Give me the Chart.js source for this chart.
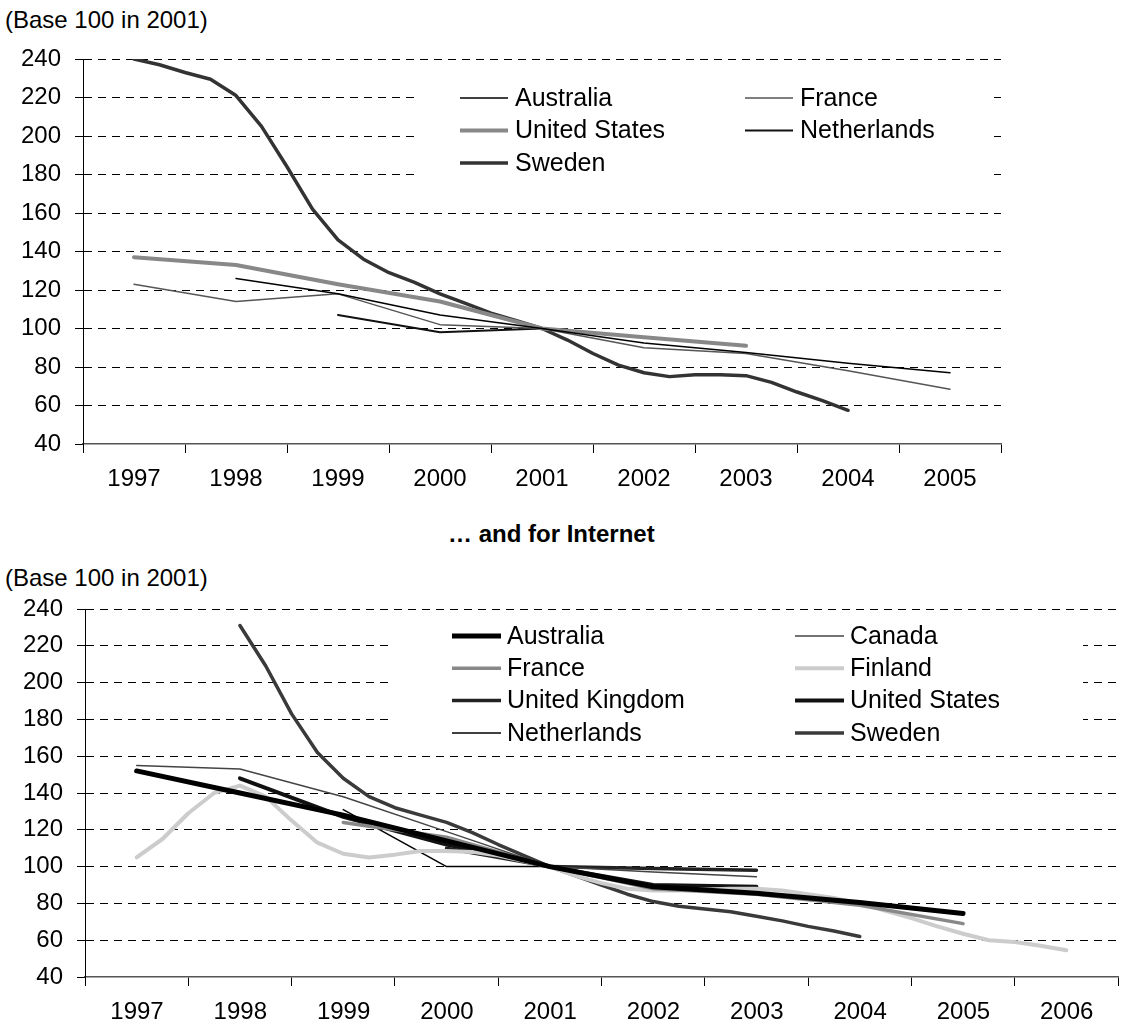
<!DOCTYPE html>
<html>
<head>
<meta charset="utf-8">
<script src="https://cdn.jsdelivr.net/npm/chart.js@4.4.0/dist/chart.umd.min.js"></script>
<style>
    html, body { margin: 0; padding: 0; background: #fff; overflow: hidden; }
    body { width: 1122px; height: 1025px; position: relative; font-family: "Liberation Sans", Arial, sans-serif; }
    .note { position: absolute; font-size: 24px; line-height: 24px; color: #000; white-space: nowrap; }
    .title { position: absolute; font-size: 24px; line-height: 24px; font-weight: bold; color: #000; white-space: nowrap; }
    canvas { position: absolute; left: 0; }
</style>
</head>
<body>
<div class="note" style="left:5px;top:8px">(Base 100 in 2001)</div>
<canvas id="telChart" width="1122" height="510" style="top:0"></canvas>
<div class="title" style="left:448px;top:522px">… and for Internet</div>
<div class="note" style="left:5px;top:566px">(Base 100 in 2001)</div>
<canvas id="netChart" width="1130" height="465" style="top:560px"></canvas>
<script>
// years on the x axis (annual values sit in the middle of their year)
const telYears = [1997, 1998, 1999, 2000, 2001, 2002, 2003, 2004, 2005];
const netYears = [1997, 1998, 1999, 2000, 2001, 2002, 2003, 2004, 2005, 2006];

// telephony, base 100 in 2001
const australiaTel = [null, 126, 118, 107, 100, 92.5, 87.5, 82, 77];
const franceTel = [123, 114, 118, 102, 100, 90, 87, 78, 68.5];
const usTel = [137, 133, 123, 114, 100, 95.5, 91, null, null];
const netherlandsTel = [null, null, 107, 98, 100, null, null, null, null];
// quarterly, from mid 1997
const swedenTelFrom = 1997;
const swedenTel = [240, 237, 233, 229.5, 221, 205, 184, 162, 146, 136, 129, 124, 118, 113, 108,
    104, 100, 94, 87, 81, 77, 75, 76, 76, 75.5, 72, 67, 62.5, 57.5];

// internet, base 100 in 2001
const australiaNet = [152, 140, 128, 114, 100, 89, 85.5, 80.5, 74.5, null];
const canadaNet = [155, 153, 138, 119, 100, 97, 94.5, null, null, null];
const franceNet = [null, null, 124, 116, 100, 88, 85, 79, 69, null];
const ukNet = [null, null, null, 110, 100, 99, 98, null, null, null];
const usNet = [null, 148, 127, 112, 100, 90, 89, null, null, null];
const netherlandsNet = [null, null, 131, 100, 100, null, null, null, null, null];
// quarterly, from mid-year of the start year
const finlandNetFrom = 1997;
const finlandNet = [105, 115, 129, 140, 144, 138, 125, 113, 107, 105, 106.5, 108.5, 108.5, 108, 106,
    103, 100, 95, 91, 88, 87, 87, 87.5, 88, 88, 87, 85, 83, 80, 76, 72, 67.5, 63.5, 60, 59, 57, 54.5];
const swedenNetFrom = 1998;
const swedenNet = [231, 209, 183, 162, 148, 138, 132, 128, 124, 118.5, 112, 106, 100, 95, 90, 85,
    81, 78.5, 77, 75.5, 73, 70.5, 67.5, 65, 62];

const yTicks = [40, 240, 20];

const annual = (years, vals) =>
    years.map((yr, i) => ({ x: yr + 0.5, y: vals[i] })).filter((p) => p.y !== null);
const quarterly = (fromYear, vals) =>
    vals.map((v, i) => ({ x: fromYear + 0.5 + i * 0.25, y: v }));

const line = (label, data, color, width) => ({
    label,
    data,
    borderColor: color,
    backgroundColor: color,
    borderWidth: width,
    pointRadius: 0,
    fill: false,
    tension: 0,
    borderCapStyle: "round",
    borderJoinStyle: "round",
});

// legend drawn in a white box inside the plot, two columns
const legendBox = {
    id: "legendBox",
    beforeDatasetsDraw(chart, args, opts) {
        const ctx = chart.ctx;
        ctx.save();
        ctx.fillStyle = "#fff";
        ctx.fillRect(opts.box[0], opts.box[1], opts.box[2], opts.box[3]);
        ctx.font = "25px 'Liberation Sans', Arial, sans-serif";
        ctx.textBaseline = "middle";
        ctx.textAlign = "left";
        chart.data.datasets.forEach((ds, i) => {
            const x = opts.left + (i % 2) * opts.colGap;
            const y = opts.top + Math.floor(i / 2) * opts.rowGap;
            ctx.strokeStyle = ds.borderColor;
            ctx.lineWidth = ds.borderWidth;
            ctx.lineCap = "butt";
            ctx.beginPath();
            ctx.moveTo(x, y);
            ctx.lineTo(x + opts.sample, y);
            ctx.stroke();
            ctx.fillStyle = "#000";
            ctx.fillText(ds.label, x + opts.sample + opts.gap, y + 1);
        });
        ctx.restore();
    },
};

const makeChart = (id, datasets, xMin, xMax, area, legend) => {
    const canvas = document.getElementById(id);
    return new Chart(canvas, {
        type: "line",
        data: { datasets },
        plugins: [legendBox],
        options: {
            responsive: false,
            animation: false,
            devicePixelRatio: 1,
            layout: {
                padding: { left: 0, top: area.top, right: canvas.width - area.right, bottom: 0 },
            },
            plugins: {
                legend: { display: false },
                tooltip: { enabled: false },
                legendBox: legend,
            },
            scales: {
                x: {
                    type: "linear",
                    min: xMin,
                    max: xMax,
                    afterFit: (scale) => {
                        scale.height = canvas.height - area.bottom;
                    },
                    grid: {
                        drawOnChartArea: false,
                        drawTicks: true,
                        tickLength: 9,
                        color: "#000",
                    },
                    border: { color: "#555", width: 1.5 },
                    ticks: {
                        stepSize: 1,
                        autoSkip: false,
                        maxRotation: 0,
                        labelOffset: area.half,
                        padding: 12,
                        color: "#000",
                        font: { family: "'Liberation Sans', Arial, sans-serif", size: 24 },
                        callback: (v) => (v < xMax ? String(v) : ""),
                    },
                },
                y: {
                    min: yTicks[0],
                    max: yTicks[1],
                    afterFit: (scale) => {
                        scale.width = area.left;
                    },
                    grid: {
                        color: (c) => (c.tick && c.tick.value === yTicks[0] ? "rgba(0,0,0,0)" : "#000"),
                        tickColor: "#000",
                        tickLength: 8,
                        lineWidth: 1,
                    },
                    border: { color: "#000", width: 1, dash: [8, 6] },
                    ticks: {
                        stepSize: yTicks[2],
                        padding: 14,
                        color: "#000",
                        font: { family: "'Liberation Sans', Arial, sans-serif", size: 24 },
                    },
                },
            },
        },
    });
};

makeChart(
    "telChart",
    [
        line("Australia", annual(telYears, australiaTel), "#000", 1.5),
        line("France", annual(telYears, franceTel), "#555", 1.5),
        line("United States", annual(telYears, usTel), "#888", 4),
        line("Netherlands", annual(telYears, netherlandsTel), "#111", 2),
        line("Sweden", quarterly(swedenTelFrom, swedenTel), "#333", 3.5),
    ],
    1997,
    2006,
    { left: 83, top: 59, right: 1001, bottom: 444, half: 51 },
    { box: [415, 72, 579, 122], left: 460, top: 98, colGap: 285, rowGap: 32.5, sample: 48, gap: 7 }
);

makeChart(
    "netChart",
    [
        line("Australia", annual(netYears, australiaNet), "#000", 5),
        line("Canada", annual(netYears, canadaNet), "#444", 1.5),
        line("France", annual(netYears, franceNet), "#888", 3.5),
        line("Finland", quarterly(finlandNetFrom, finlandNet), "#ccc", 4),
        line("United Kingdom", annual(netYears, ukNet), "#222", 3.5),
        line("United States", annual(netYears, usNet), "#111", 4),
        line("Netherlands", annual(netYears, netherlandsNet), "#000", 1.5),
        line("Sweden", quarterly(swedenNetFrom, swedenNet), "#3a3a3a", 3.5),
    ],
    1997,
    2007,
    { left: 85, top: 49, right: 1125, bottom: 417, half: 52 },
    { box: [393, 62, 690, 126], left: 452, top: 76, colGap: 343, rowGap: 32.3, sample: 49, gap: 6 }
);
</script>
</body>
</html>
